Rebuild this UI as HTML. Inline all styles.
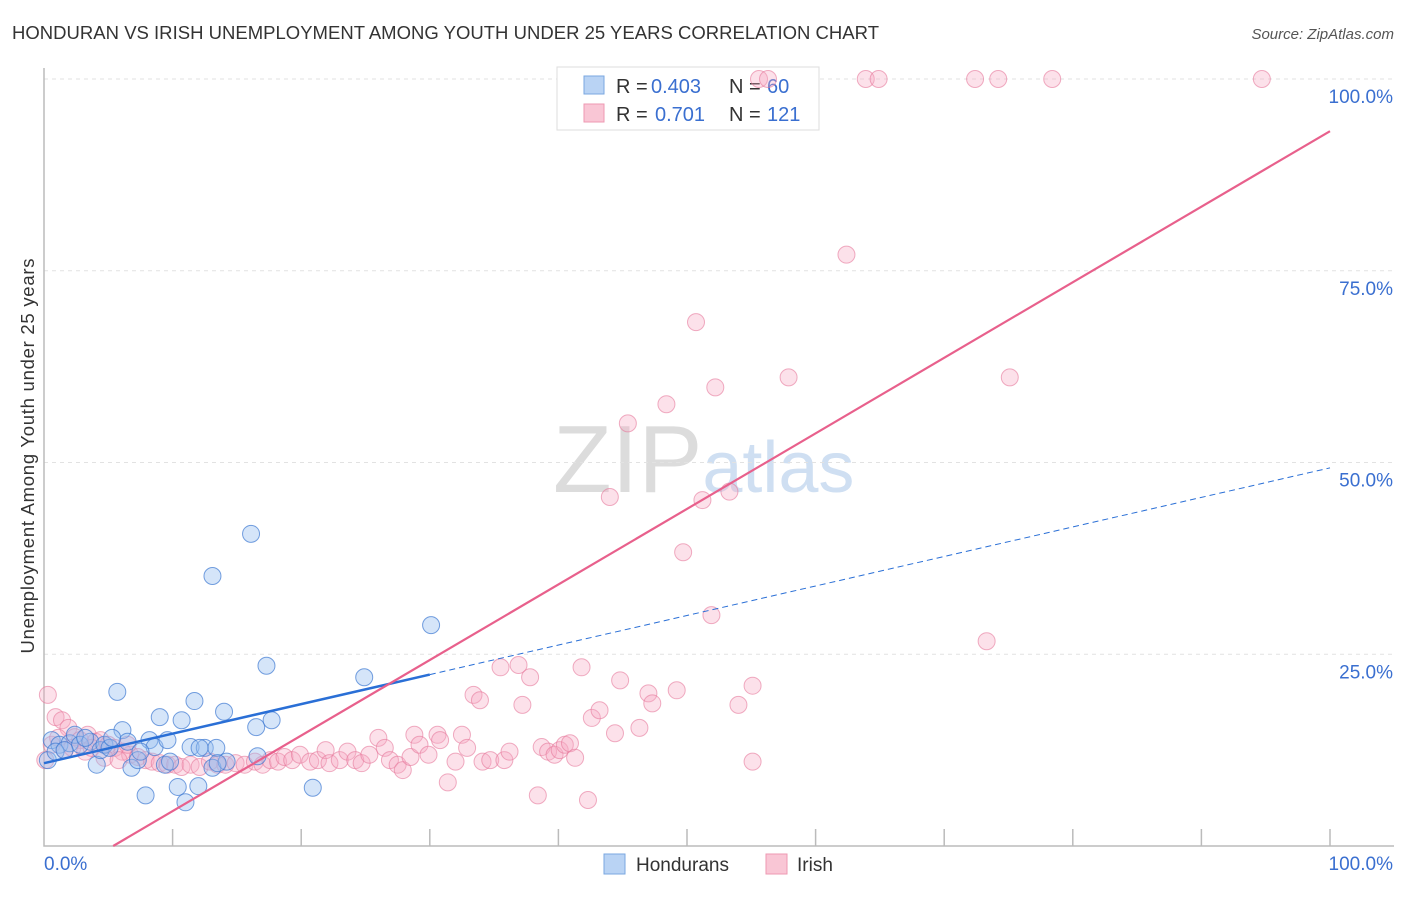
<!DOCTYPE html>
<html><head><meta charset="utf-8"><style>
body{margin:0;background:#fff;font-family:"Liberation Sans",sans-serif;}
svg text{font-family:"Liberation Sans",sans-serif;}
</style></head><body>
<svg id="chart" width="1406" height="892">
<text x="12" y="39" font-size="18.5" fill="#333" textLength="867">HONDURAN VS IRISH UNEMPLOYMENT AMONG YOUTH UNDER 25 YEARS CORRELATION CHART</text>
<text x="1394" y="39" font-size="15" fill="#555" font-style="italic" text-anchor="end">Source: ZipAtlas.com</text>
<text x="34" y="456" font-size="18.5" fill="#333" text-anchor="middle" textLength="395" transform="rotate(-90 34 456)">Unemployment Among Youth under 25 years</text>
<text x="553" y="492" font-size="96" fill="#ddd" font-family="Liberation Serif"><tspan fill="#dcdcdc">ZIP</tspan><tspan fill="#cfdff2" font-family="Liberation Sans" font-size="72">atlas</tspan></text>
<g id="grid"></g>
<g>
<rect x="557" y="67" width="262" height="63" fill="#fff" stroke="#ddd"/>
<rect x="584" y="76" width="20" height="18" fill="#b9d3f4" stroke="#7aa7e0"/>
<rect x="584" y="104" width="20" height="18" fill="#f9c6d5" stroke="#ee98b2"/>
<text x="616" y="93" font-size="20" fill="#333">R = </text><text x="651" y="93" font-size="20" fill="#3a6fd0">0.403</text>
<text x="729" y="93" font-size="20" fill="#333">N = </text><text x="767" y="93" font-size="20" fill="#3a6fd0">60</text>
<text x="616" y="121" font-size="20" fill="#333">R = </text><text x="655" y="121" font-size="20" fill="#3a6fd0">0.701</text>
<text x="729" y="121" font-size="20" fill="#333">N = </text><text x="767" y="121" font-size="20" fill="#3a6fd0">121</text>
</g>
<g id="pts"></g><g id="lines"></g>
<g>
<rect x="604" y="854" width="21" height="20" fill="#b9d3f4" stroke="#7aa7e0"/>
<text x="636" y="871" font-size="19" fill="#333">Hondurans</text>
<rect x="766" y="854" width="21" height="20" fill="#f9c6d5" stroke="#ee98b2"/>
<text x="797" y="871" font-size="19" fill="#333">Irish</text>
</g>
</svg>
<script>
const yTicks=[25,50,75,100];
const yTickLabels=["25.0%","50.0%","75.0%","100.0%"];
const xTickVals=[0,10,20,30,40,50,60,70,80,90,100];
const hondX=[0.6,1.2,2.0,2.4,2.8,3.6,4.1,4.4,4.7,5.1,5.7,6.1,6.5,6.8,7.3,7.9,8.2,8.6,9.0,9.4,9.6,10.4,10.7,11.0,11.4,11.7,12.0,12.5,13.1,13.1,13.4,14.0,14.2,16.1,16.5,16.6,17.3,17.7,20.9,24.9,30.1,0.3,0.9,1.6,3.2,5.3,7.5,9.8,12.1,13.5];
const hondY=[13.8,13.2,13.4,14.5,13.2,13.6,10.6,12.5,13.2,12.8,20.1,15.1,13.6,10.2,11.2,6.6,13.8,12.9,16.8,10.6,13.8,7.7,16.4,5.7,12.9,18.9,7.8,12.8,10.2,35.2,12.8,17.5,11.0,40.7,15.5,11.7,23.5,16.4,7.6,22.0,28.8,11.2,12.3,12.5,14.1,14.1,12.3,11.0,12.8,10.8];
const irishX=[0.3,0.9,1.4,1.9,2.4,2.8,3.4,4.0,4.4,5.0,5.5,6.1,6.7,7.3,7.9,8.4,9.0,9.6,10.2,10.7,11.4,12.1,12.9,13.5,14.1,14.9,15.6,16.4,17.0,17.6,18.2,18.7,19.3,19.9,20.7,21.3,21.9,22.2,23.0,23.6,24.2,24.7,25.3,26.0,26.5,26.9,27.5,27.9,28.5,28.8,29.2,29.9,30.6,30.8,31.4,32.0,32.5,32.9,33.4,33.9,34.1,34.7,35.5,35.8,36.2,36.9,37.2,37.8,38.4,38.7,39.2,39.7,40.1,40.5,40.9,41.3,41.8,42.3,42.6,43.2,44.0,44.4,44.8,45.4,46.3,47.0,47.3,48.4,49.2,49.7,50.7,51.2,51.9,52.2,53.3,54.0,55.1,55.1,57.9,62.4,73.3,75.1,55.6,56.3,63.9,64.9,72.4,74.2,78.4,94.7,0.1,0.6,1.1,1.6,2.2,3.2,3.7,4.7,5.8,6.5];
const irishY=[19.7,16.8,16.4,15.4,14.2,13.8,14.5,13.6,13.8,13.2,12.8,12.3,11.9,11.6,11.2,11.0,10.8,10.6,10.6,10.3,10.6,10.3,11.0,10.6,10.6,10.8,10.6,11.0,10.6,11.2,11.0,11.6,11.2,11.9,11.0,11.2,12.5,10.8,11.2,12.3,11.2,10.8,11.9,14.1,12.8,11.2,10.6,9.9,11.6,14.5,13.2,11.9,14.5,13.8,8.3,11.0,14.5,12.8,19.7,19.0,11.0,11.2,23.3,11.2,12.3,23.6,18.4,22.0,6.6,12.9,12.3,11.9,12.5,13.2,13.4,11.5,23.3,6.0,16.7,17.7,45.5,14.7,21.6,55.1,15.4,19.9,18.6,57.6,20.3,38.3,68.3,45.1,30.1,59.8,46.2,18.4,20.9,11.0,61.1,77.1,26.7,61.1,100,100,100,100,100,100,100,100,11.2,13.2,14.1,12.5,12.8,12.3,12.8,11.5,11.2,13.2];
const hondLine=[10.8,49.3], hondSolidEnd=30;
const irishLine=[-5.3,93.2];
const NS='http://www.w3.org/2000/svg';
const X=v=>44+v*12.86, Y=v=>846-v*7.67;
function mk(tag,attrs,parent){const e=document.createElementNS(NS,tag);for(const k in attrs)e.setAttribute(k,attrs[k]);parent.appendChild(e);return e;}
const grid=document.getElementById('grid'),pts=document.getElementById('pts'),lines=document.getElementById('lines');
yTicks.forEach((t,i)=>{
 const l=mk('line',{x1:44,x2:1394,y1:Y(t),y2:Y(t),stroke:'#e2e2e2','stroke-dasharray':'4,4'},grid);
 
 
 const tx=mk('text',{x:1393,y:Y(t)+24,'font-size':19,fill:'#3a6fd0','text-anchor':'end'},grid);tx.textContent=yTickLabels[i];
 
 
});
const ax=mk('path',{d:'M44,68V846H1394',fill:'none',stroke:'#bbb','stroke-width':1.5},grid);


xTickVals.forEach(t=>{if(t===0)return;const l=mk('line',{x1:X(t),x2:X(t),y1:829,y2:846,stroke:'#bbb','stroke-width':1.5},grid);
 
 });
[['0.0%',44,'start'],['100.0%',1393,'end']].forEach(a=>{const t=mk('text',{x:a[1],y:870,'font-size':19,fill:'#3a6fd0','text-anchor':a[2]},grid);t.textContent=a[0];
 
 });
irishX.forEach((x,i)=>{const c=mk('circle',{cx:X(x),cy:Y(irishY[i]),r:8.5,fill:'rgba(246,170,195,0.35)',stroke:'rgba(230,120,155,0.6)','stroke-width':1},pts);
 
 });
hondX.forEach((x,i)=>{const c=mk('circle',{cx:X(x),cy:Y(hondY[i]),r:8.5,fill:'rgba(150,190,240,0.4)',stroke:'rgba(60,120,210,0.7)','stroke-width':1},pts);
 
 });
const hv=x=>hondLine[0]+(hondLine[1]-hondLine[0])*x/100;
let l1=mk('line',{x1:X(0),y1:Y(hv(0)),x2:X(hondSolidEnd),y2:Y(hv(hondSolidEnd)),stroke:'#2a6fd6','stroke-width':2.5},lines);


let l2=mk('line',{x1:X(hondSolidEnd),y1:Y(hv(hondSolidEnd)),x2:X(100),y2:Y(hv(100)),stroke:'#2a6fd6','stroke-width':1,'stroke-dasharray':'6,4'},lines);


const iv=x=>irishLine[0]+(irishLine[1]-irishLine[0])*x/100;
const x0=(0-irishLine[0])/(irishLine[1]-irishLine[0])*100;
let l3=mk('line',{x1:X(x0),y1:Y(0),x2:X(100),y2:Y(iv(100)),stroke:'#e8608c','stroke-width':2.2},lines);


</script>
</body></html>
